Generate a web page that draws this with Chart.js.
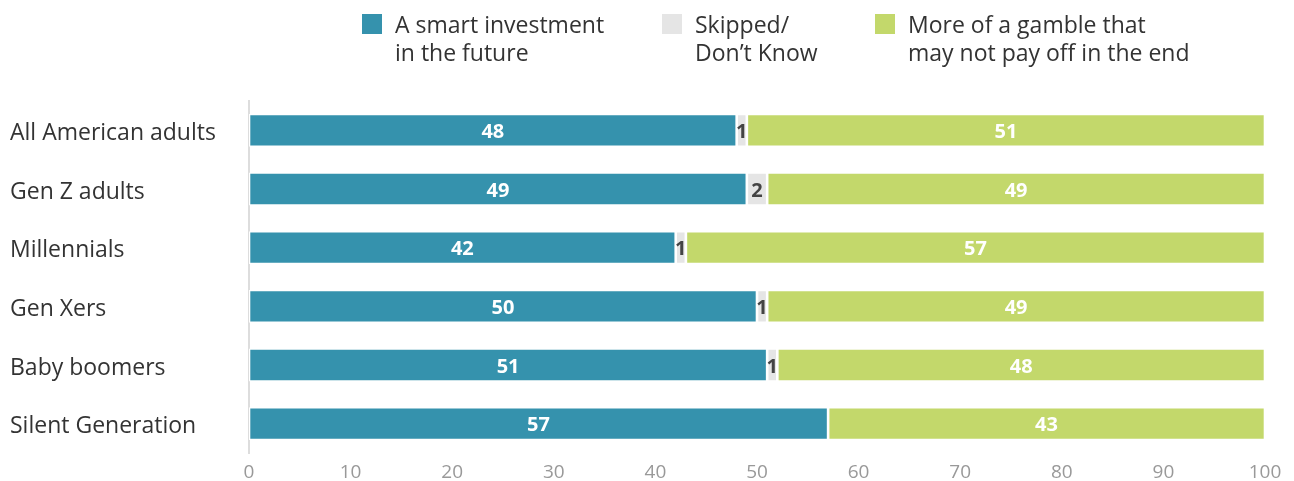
<!DOCTYPE html>
<html>
<head>
<meta charset="utf-8">
<script src="https://cdn.jsdelivr.net/npm/chart.js@4.4.1/dist/chart.umd.min.js"></script>
<style>
  body { margin:0; background:#fff; font-family:"Open Sans", sans-serif; }
  #wrap { position:relative; width:1294px; height:481px; }
  #legend { position:absolute; top:0; left:0; width:1294px; height:90px; }
  .item { position:absolute; top:10px; font-size:23px; line-height:28px; color:#333; }
  .box { position:absolute; top:4px; left:-33px; width:20px; height:20px; }
</style>
</head>
<body>
<div id="wrap">
  <canvas id="grafica" width="1294" height="481"></canvas>
  <div id="legend"></div>
</div>
<script>
// datos
var categorias = ['All American adults','Gen Z adults','Millennials','Gen Xers','Baby boomers','Silent Generation'];
var inversion = [48,49,42,50,51,57];
var noSabe = [1,2,1,1,1,0];
var apuesta = [51,49,57,49,48,43];
var etiquetasSerie = [['A smart investment','in the future'],['Skipped/','Don\u2019t Know'],['More of a gamble that','may not pay off in the end']];
var colores = ['#3592ad','#e5e5e5','#c3d86b'];

// leyenda en html (etiquetas de dos lineas)
var posLeyenda = [395,695,908];
var leg = document.getElementById('legend');
etiquetasSerie.forEach(function(t,i){
  var d = document.createElement('div');
  d.className = 'item';
  d.style.left = posLeyenda[i] + 'px';
  d.innerHTML = '<span class="box" style="background:' + colores[i] + '"></span>' + t.join('<br>');
  leg.appendChild(d);
});

// etiquetas dentro de las barras
var etiquetas = {
  id: 'etiquetas',
  afterDatasetsDraw: function(chart){
    var ctx = chart.ctx;
    ctx.save();
    ctx.font = 'bold 20px "Open Sans"';
    ctx.textAlign = 'center';
    ctx.textBaseline = 'middle';
    chart.data.datasets.forEach(function(ds,i){
      chart.getDatasetMeta(i).data.forEach(function(bar,j){
        var v = ds.data[j];
        if(v <= 0) return;
        ctx.fillStyle = i == 1 ? '#444' : '#fff';
        ctx.fillText(v, (bar.x + bar.base)/2, bar.y + 2);
      });
    });
    ctx.restore();
  }
};

var grafica = new Chart(document.getElementById('grafica'),{
  type:'bar',
  data:{
    labels: categorias,
    datasets:[
      {label:etiquetasSerie[0].join(' '), data:inversion, backgroundColor:colores[0]},
      {label:etiquetasSerie[1].join(' '), data:noSabe, backgroundColor:colores[1]},
      {label:etiquetasSerie[2].join(' '), data:apuesta, backgroundColor:colores[2]}
    ].map(function(d){
      d.borderColor = '#fff';
      d.borderWidth = 1.3;
      d.borderSkipped = false;
      d.barPercentage = 0.56;
      d.categoryPercentage = 1;
      return d;
    })
  },
  options:{
    responsive:false,
    animation:false,
    indexAxis:'y',
    layout:{ padding:{ top:101, right:29, left:10, bottom:0 } },
    plugins:{
      legend:{ display:false },
      tooltip:{ enabled:false }
    },
    scales:{
      x:{
        stacked:true,
        min:0, max:100,
        ticks:{ stepSize:10, color:'#999', font:{ family:'Open Sans', size:19 }, padding:8 },
        grid:{ display:false, drawTicks:false },
        border:{ display:false },
        afterFit:function(a){ a.height = 28; }
      },
      y:{
        stacked:true,
        ticks:{ crossAlign:'far', labelOffset:3, color:'#333', font:{ family:'Open Sans', size:23 } },
        grid:{ display:false, drawTicks:false },
        border:{ display:true, color:'#ddd', width:2 },
        afterFit:function(a){ a.width = 239; }
      }
    }
  },
  plugins:[etiquetas]
});
</script>
</body>
</html>
